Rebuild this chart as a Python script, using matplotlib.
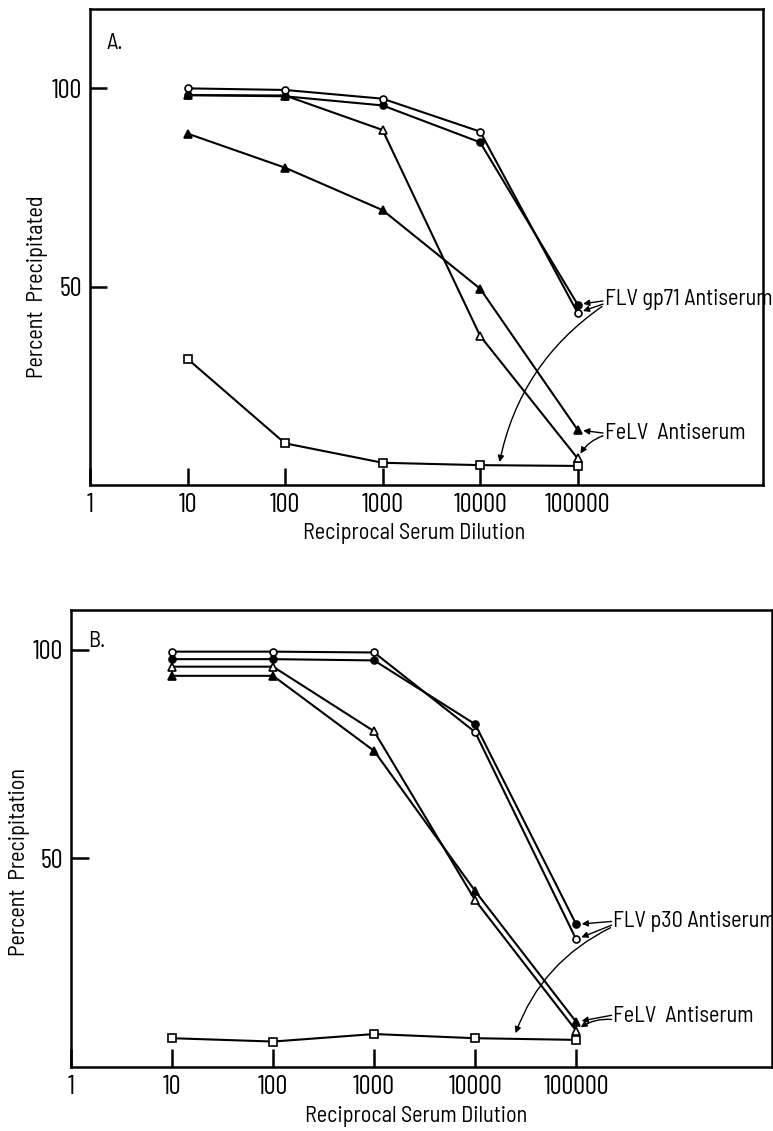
import matplotlib
matplotlib.use("Agg")
import matplotlib.pyplot as plt

plt.rcParams['font.family'] = ['Barlow Semi Condensed', 'DejaVu Sans']

# reciprocal serum dilution
dilution = [10, 100, 1000, 10000, 100000]
tick_vals = [1, 10, 100, 1000, 10000, 100000]
tick_labels = ["1", "10", "100", "1000", "10000", "100000"]

# panel A: percent precipitated
a_open_circle = [100, 99.6, 97.4, 89.1, 43.4]
a_filled_circle = [98.3, 98.0, 95.7, 86.4, 45.5]
a_open_tri = [98.3, 98.2, 89.5, 37.6, 6.7]
a_filled_tri = [88.6, 80.0, 69.3, 49.5, 13.9]
a_open_sq = [31.8, 10.5, 5.6, 5.0, 4.8]

# panel B: percent precipitation
b_open_circle = [99.6, 99.6, 99.4, 80.3, 30.6]
b_filled_circle = [97.8, 97.8, 97.5, 82.2, 34.2]
b_open_tri = [96.0, 96.0, 80.5, 40.0, 8.7]
b_filled_tri = [93.8, 93.8, 75.8, 42.2, 10.8]
b_open_sq = [6.9, 6.1, 7.9, 6.9, 6.5]

TICK_FS = 19
FS = 16
tick_font = dict(family=['Barlow Condensed', 'DejaVu Sans'], size=TICK_FS)


def draw_series(ax, oc, fc, ot, ft, sq):
    kw = dict(color='black', lw=1.5, mec='black', mew=1.2)
    ax.plot(dilution, sq, marker='s', ms=5.5, mfc='white', zorder=3, **kw)
    ax.plot(dilution, ft, marker='^', ms=6, mfc='black', zorder=3, **kw)
    ax.plot(dilution, ot, marker='^', ms=6, mfc='white', zorder=3, **kw)
    ax.plot(dilution, fc, marker='o', ms=5, mfc='black', zorder=4, **kw)
    ax.plot(dilution, oc, marker='o', ms=5, mfc='white', zorder=4, **kw)


def style_axes(ax, xmax, ymax, tick_len, xlab_pos):
    ax.set_xscale('log')
    ax.set_xlim(1, xmax)
    ax.set_ylim(0, ymax)
    ax.set_xticks(tick_vals)
    ax.set_xticklabels(tick_labels, fontdict=tick_font)
    ax.minorticks_off()
    ax.set_yticks([50, 100])
    ax.set_yticklabels(["50", "100"], fontdict=tick_font)
    ax.tick_params(axis='both', direction='in', length=tick_len, width=1.8, pad=6)
    ax.tick_params(axis='x', top=False)
    ax.tick_params(axis='y', right=False)
    for s in ax.spines.values():
        s.set_linewidth(1.8)
    ax.set_xlabel("Reciprocal Serum Dilution", fontsize=FS)
    ax.xaxis.set_label_coords(*xlab_pos)


arrow = dict(arrowstyle='-|>', color='black', lw=1.0, mutation_scale=9,
             shrinkA=0, shrinkB=4)

fig = plt.figure(figsize=(7.73, 11.31), dpi=100)

# ---- panel A
axA = fig.add_axes([0.1164, 0.5712, 0.8706, 0.4208])
draw_series(axA, a_open_circle, a_filled_circle, a_open_tri, a_filled_tri, a_open_sq)
style_axes(axA, 10 ** 6.9, 120, 12, (0.481, -0.08))
axA.set_ylabel("Percent  Precipitated", fontsize=FS)
axA.yaxis.set_label_coords(-0.062, 0.416)
axA.text(0.025, 0.95, "A.", transform=axA.transAxes, fontsize=FS,
         ha='left', va='top')

axA.text(10 ** 5.28, 46.7, "FLV gp71 Antiserum", fontsize=FS, ha='left', va='center')
axA.annotate("", xy=(100000, a_filled_circle[4]), xytext=(10 ** 5.26, 46.4), arrowprops=arrow)
axA.annotate("", xy=(100000, a_open_circle[4]), xytext=(10 ** 5.26, 45.6), arrowprops=arrow)
axA.annotate("", xy=(10 ** 4.2, 5.8), xytext=(10 ** 5.25, 45.0),
             arrowprops=dict(arrow, shrinkB=0, connectionstyle='arc3,rad=0.2'))

axA.text(10 ** 5.28, 13.1, "FeLV  Antiserum", fontsize=FS, ha='left', va='center')
axA.annotate("", xy=(100000, a_filled_tri[4]), xytext=(10 ** 5.26, 13.1), arrowprops=arrow)
axA.annotate("", xy=(100000, a_open_tri[4]), xytext=(10 ** 5.26, 12.4),
             arrowprops=dict(arrow, connectionstyle='arc3,rad=0.2'))

# ---- panel B
axB = fig.add_axes([0.0918, 0.0566, 0.9072, 0.4041])
draw_series(axB, b_open_circle, b_filled_circle, b_open_tri, b_filled_tri, b_open_sq)
style_axes(axB, 10 ** 6.94, 109.6, 13, (0.492, -0.085))
axB.set_ylabel("Percent  Precipitation", fontsize=FS)
axB.yaxis.set_label_coords(-0.058, 0.449)
axB.text(0.025, 0.955, "B.", transform=axB.transAxes, fontsize=FS,
         ha='left', va='top')

axB.text(10 ** 5.36, 34.9, "FLV p30 Antiserum", fontsize=FS, ha='left', va='center',
         clip_on=False)
axB.annotate("", xy=(100000, b_filled_circle[4]), xytext=(10 ** 5.35, 34.9), arrowprops=arrow)
axB.annotate("", xy=(100000, b_open_circle[4]), xytext=(10 ** 5.35, 34.0), arrowprops=arrow)
axB.annotate("", xy=(10 ** 4.4, 8.1), xytext=(10 ** 5.34, 33.4),
             arrowprops=dict(arrow, shrinkB=0, connectionstyle='arc3,rad=0.2'))

axB.text(10 ** 5.36, 12.0, "FeLV  Antiserum", fontsize=FS, ha='left', va='center')
axB.annotate("", xy=(100000, b_filled_tri[4]), xytext=(10 ** 5.35, 12.4), arrowprops=arrow)
axB.annotate("", xy=(100000, b_open_tri[4]), xytext=(10 ** 5.35, 11.4),
             arrowprops=dict(arrow, connectionstyle='arc3,rad=0.2'))

fig.savefig("out.png", dpi=100)
